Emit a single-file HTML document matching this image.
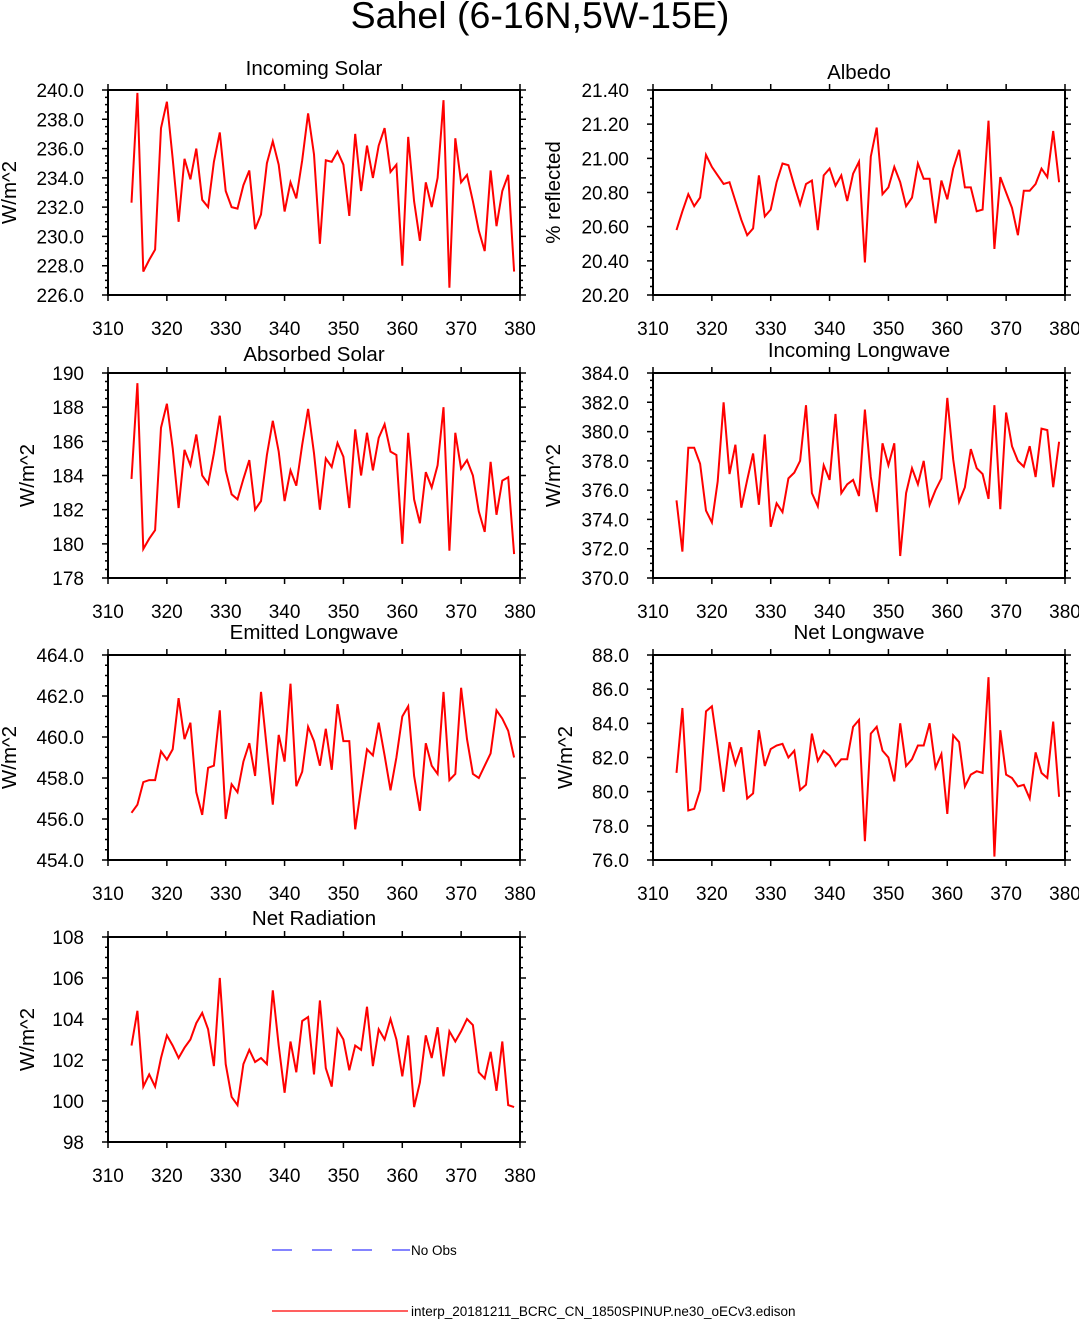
<!DOCTYPE html>
<html><head><meta charset="utf-8"><style>
html,body{margin:0;padding:0;background:#fff;}
svg{display:block;font-family:"Liberation Sans",Arial,sans-serif;}
</style></head><body>
<svg id="chart" width="1079" height="1319" viewBox="0 0 1079 1319" xmlns="http://www.w3.org/2000/svg">
<text x="540" y="28" font-size="37.5" text-anchor="middle">Sahel (6-16N,5W-15E)</text>
<g>
<line x1="272" y1="1250" x2="410" y2="1250" stroke="#3b3bff" stroke-width="1.2" stroke-dasharray="20,20"/>
<text x="411" y="1255" font-size="13.5">No Obs</text>
<line x1="272" y1="1311" x2="408" y2="1311" stroke="#ff0000" stroke-width="1.2"/>
<text x="411" y="1316" font-size="13.5">interp_20181211_BCRC_CN_1850SPINUP.ne30_oECv3.edison</text>
</g>
</svg>
<script>
const years = Array.from({length:66},(_,i)=>314+i);
const xTicks = [310,320,330,340,350,360,370,380];
const incomingSolar = [232.3,239.8,227.6,228.4,229.1,237.4,239.2,235.3,231.0,235.3,233.9,236.0,232.5,232.0,235.1,237.1,233.1,232.0,231.9,233.5,234.5,230.5,231.5,235.0,236.5,234.9,231.7,233.7,232.6,235.2,238.4,235.6,229.5,235.2,235.1,235.8,234.9,231.4,237.0,233.1,236.2,234.0,236.2,237.4,234.4,234.9,228.0,236.8,232.4,229.7,233.7,232.0,234.0,239.3,226.5,236.7,233.7,234.2,232.4,230.4,229.0,234.5,230.7,233.1,234.2,227.6];
const albedo = [20.58,20.69,20.79,20.72,20.77,21.02,20.95,20.90,20.85,20.86,20.75,20.64,20.55,20.59,20.90,20.66,20.70,20.86,20.97,20.96,20.84,20.73,20.85,20.87,20.58,20.90,20.94,20.84,20.90,20.75,20.91,20.98,20.39,21.01,21.18,20.79,20.83,20.95,20.86,20.72,20.77,20.97,20.88,20.88,20.62,20.87,20.76,20.94,21.05,20.83,20.83,20.69,20.70,21.22,20.47,20.89,20.80,20.71,20.55,20.81,20.81,20.85,20.94,20.89,21.16,20.86];
const absorbedSolar = [183.8,189.4,179.7,180.3,180.8,186.8,188.2,185.6,182.1,185.5,184.6,186.4,184.0,183.5,185.3,187.5,184.3,182.9,182.6,183.8,184.9,182.0,182.5,185.2,187.2,185.4,182.5,184.3,183.4,185.8,187.9,185.3,182.0,185.0,184.5,185.9,185.1,182.1,186.7,184.0,186.5,184.3,186.2,187.0,185.4,185.2,180.0,186.5,182.6,181.2,184.2,183.3,184.6,188.0,179.6,186.5,184.4,184.9,184.0,181.9,180.7,184.8,181.7,183.7,183.9,179.4];
const incomingLW = [375.3,371.8,378.9,378.9,377.8,374.6,373.8,376.6,382.0,377.1,379.1,374.8,376.7,378.5,375.0,379.8,373.5,375.1,374.5,376.8,377.2,378.0,381.8,375.8,374.9,377.7,376.7,381.2,375.8,376.4,376.7,375.6,381.5,376.9,374.5,379.2,377.7,379.2,371.5,375.8,377.5,376.4,378.0,375.0,376.0,376.8,382.3,378.1,375.2,376.2,378.8,377.5,377.1,375.4,381.8,374.7,381.3,379.0,378.0,377.6,379.0,376.9,380.2,380.1,376.2,379.3];
const emittedLW = [456.3,456.7,457.8,457.9,457.9,459.3,458.9,459.4,461.9,459.9,460.7,457.3,456.2,458.5,458.6,461.3,456.0,457.7,457.3,458.8,459.7,458.1,462.2,459.4,456.7,460.1,458.8,462.6,457.6,458.3,460.5,459.8,458.6,460.4,458.4,461.6,459.8,459.8,455.5,457.5,459.4,459.1,460.7,459.1,457.4,459.0,461.0,461.5,458.1,456.4,459.7,458.6,458.2,462.2,457.9,458.2,462.4,459.9,458.2,458.0,458.6,459.2,461.3,460.9,460.3,459.0];
const netLW = [81.1,84.9,78.9,79.0,80.1,84.7,85.0,82.6,80.0,82.9,81.6,82.6,79.6,79.9,83.6,81.5,82.5,82.7,82.8,82.0,82.4,80.1,80.4,83.4,81.8,82.4,82.1,81.5,81.9,81.9,83.8,84.2,77.1,83.4,83.8,82.4,82.0,80.6,84.0,81.5,81.9,82.7,82.7,84.0,81.4,82.2,78.7,83.3,82.9,80.3,81.0,81.2,81.1,86.7,76.2,83.6,81.0,80.8,80.3,80.4,79.6,82.3,81.1,80.8,84.1,79.7];
const netRad = [102.7,104.4,100.7,101.3,100.7,102.1,103.2,102.7,102.1,102.6,103.0,103.8,104.3,103.5,101.7,106.0,101.8,100.2,99.8,101.8,102.5,101.9,102.1,101.8,105.4,102.7,100.4,102.9,101.4,103.9,104.1,101.3,104.9,101.6,100.7,103.5,103.0,101.5,102.7,102.5,104.6,101.7,103.5,103.0,104.0,103.0,101.2,103.2,99.7,100.9,103.2,102.1,103.6,101.2,103.4,102.9,103.4,104.0,103.7,101.4,101.1,102.4,100.5,102.9,99.8,99.7];
const ticksIS = [226,228,230,232,234,236,238,240];
const ticksAlb = [20.2,20.4,20.6,20.8,21.0,21.2,21.4];
const ticksAbs = [178,180,182,184,186,188,190];
const ticksILW = [370,372,374,376,378,380,382,384];
const ticksELW = [454,456,458,460,462,464];
const ticksNLW = [76,78,80,82,84,86,88];
const ticksNR = [98,100,102,104,106,108];

const NS='http://www.w3.org/2000/svg';
const svg=document.getElementById('chart');
function mk(tag,attrs,parent){const e=document.createElementNS(NS,tag);for(const k in attrs)e.setAttribute(k,attrs[k]);parent.appendChild(e);return e;}

const panels=[
 {name:'incoming-solar',title:'Incoming Solar',ty:75,yl:'W/m^2',ylx:16,data:incomingSolar,ticks:ticksIS,dec:1,x0:108,y0:90},
 {name:'albedo',title:'Albedo',ty:79,yl:'% reflected',ylx:560,data:albedo,ticks:ticksAlb,dec:2,x0:653,y0:90},
 {name:'absorbed-solar',title:'Absorbed Solar',ty:361,yl:'W/m^2',ylx:34,data:absorbedSolar,ticks:ticksAbs,dec:0,x0:108,y0:373},
 {name:'incoming-longwave',title:'Incoming Longwave',ty:357,yl:'W/m^2',ylx:560,data:incomingLW,ticks:ticksILW,dec:1,x0:653,y0:373},
 {name:'emitted-longwave',title:'Emitted Longwave',ty:639,yl:'W/m^2',ylx:16,data:emittedLW,ticks:ticksELW,dec:1,x0:108,y0:655},
 {name:'net-longwave',title:'Net Longwave',ty:639,yl:'W/m^2',ylx:572,data:netLW,ticks:ticksNLW,dec:1,x0:653,y0:655},
 {name:'net-radiation',title:'Net Radiation',ty:925,yl:'W/m^2',ylx:34,data:netRad,ticks:ticksNR,dec:0,x0:108,y0:937}
];
const W=412,H=205;
panels.forEach(p=>{
 const g=mk('g',{},svg);
 
 
 const xmin=xTicks[0],xmax=xTicks[xTicks.length-1];
 const ymin=p.ticks[0],ymax=p.ticks[p.ticks.length-1];
 const X=v=>p.x0+(v-xmin)/(xmax-xmin)*W;
 const Y=v=>p.y0+H-(v-ymin)/(ymax-ymin)*H;
 const t=mk('text',{x:p.x0+W/2,y:p.ty,'font-size':20.5,'text-anchor':'middle'},g);
 t.textContent=p.title;
 
 
 const yt=mk('text',{transform:`translate(${p.ylx},${p.y0+H/2}) rotate(-90)`,'font-size':20.5,'text-anchor':'middle'},g);
 yt.textContent=p.yl;
 
 
 let path='';
 xTicks.forEach(v=>{
  const x=X(v);
  path+=`M${x},${p.y0+H}v6M${x},${p.y0}v-6`;
  const lb=mk('text',{x:x,y:p.y0+H+40,'font-size':19,'text-anchor':'middle'},g);
  lb.textContent=v;
  
  
 });
 p.ticks.forEach((v,i)=>{
  const y=Y(v);
  path+=`M${p.x0},${y}h-6M${p.x0+W},${y}h6`;
  if(i<p.ticks.length-1){
   const step=p.ticks[i+1]-v;
   for(let k=1;k<4;k++){const yy=Y(v+step*k/4);path+=`M${p.x0},${yy}h-3M${p.x0+W},${yy}h3`;}
  }
  const lb=mk('text',{x:p.x0-24,y:y+7,'font-size':19,'text-anchor':'end'},g);
  lb.textContent=v.toFixed(p.dec);
  
  
 });
 const tk=mk('path',{d:path,stroke:'#000','stroke-width':1.5,fill:'none'},g);
 
 
 const fr=mk('rect',{x:p.x0,y:p.y0,width:W,height:H,fill:'none',stroke:'#000','stroke-width':2},g);
 
 
 const pts=p.data.map((v,i)=>X(years[i]).toFixed(1)+','+Y(v).toFixed(1)).join(' ');
 const ln=mk('polyline',{points:pts,fill:'none',stroke:'#ff0000','stroke-width':2,'stroke-linejoin':'miter'},g);
 
 
});
</script>
</body></html>
